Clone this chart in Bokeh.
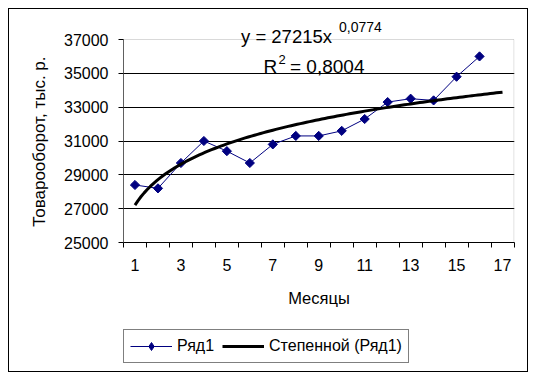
import numpy as np
from bokeh.plotting import figure
from bokeh.layouts import column
from bokeh.models import (FixedTicker, Label, Legend, LegendItem, Range1d,
                          BoxAnnotation)
from bokeh.embed import file_html
from bokeh.resources import INLINE

# ---- data ----
months = list(range(1, 17))
turnover = [28400, 28200, 29700, 31000, 30400, 29700, 30800, 31300,
            31300, 31600, 32300, 33300, 33500, 33400, 34800, 36000]
trend_coef = 27215
trend_exp = 0.0774
trend_r2 = 0.8004
x_tick_values = [1, 3, 5, 7, 9, 11, 13, 15, 17]
y_tick_values = [25000, 27000, 29000, 31000, 33000, 35000, 37000]
series_name = "Ряд1"
trend_name = "Степенной (Ряд1)"
x_title = "Месяцы"
y_title = "Товарооборот, тыс. р."

FONT = "Liberation Sans"
NAVY = "#000080"

# power trendline, as given by the chart's own equation, extended one period
x_tr = np.linspace(1, 17, 121)
y_tr = trend_coef * x_tr ** trend_exp

# ---- geometry (page px; layout at 0,0) ----
W, H = 536, 380
H1 = 325            # height of the chart part; legend strip below it
FL = 123            # frame left
FW = 391            # frame width
FT = 12             # frame top - extended upward to hold the equation
Y37 = 39            # y of the 37000 line
FB = 242            # frame bottom
XMIN, XLAST = 0.5, 17.5
YMIN, YMAX = 25000, 37000
X_PER_PX = (XLAST - XMIN) / (FW - 0.5)
Y_PER_PX = (YMAX - YMIN) / (FB - Y37)
XMAX_R = XMIN + FW * X_PER_PX
YTOP_R = YMAX + (Y37 - FT) * Y_PER_PX


def dx(px):
    return XMIN + (px - FL) * X_PER_PX


def dy(py):
    return YMAX - (py - Y37) * Y_PER_PX


p = figure(frame_width=FW, frame_height=FB - FT, title=None,
           x_range=Range1d(XMIN, XMAX_R), y_range=Range1d(YMIN, YTOP_R),
           output_backend="svg", toolbar_location=None,
           min_border_left=FL, min_border_top=FT,
           min_border_right=W - FL - FW,
           min_border_bottom=H1 - FB)
p.background_fill_color = "white"
p.border_fill_color = "white"
p.border_fill_alpha = 0
p.outline_line_color = None

# plot-area border (gray), top & right
p.add_layout(BoxAnnotation(left=XMIN, right=XLAST, bottom=YMIN, top=YMAX,
                           fill_alpha=0, line_color="#808080", line_width=1,
                           level="underlay"))

# grid
p.xgrid.visible = False
p.ygrid.ticker = FixedTicker(ticks=y_tick_values[1:-1])
p.ygrid.grid_line_color = "black"
p.ygrid.grid_line_width = 1

# x axis
xa = p.xaxis[0]
xa.ticker = FixedTicker(ticks=x_tick_values,
                        minor_ticks=[v + 0.5 for v in range(0, 18)])
xa.bounds = (XMIN, XLAST)
xa.major_tick_out = 0
xa.major_tick_in = 0
xa.minor_tick_out = 5
xa.minor_tick_in = 0
xa.minor_tick_line_color = "black"
xa.axis_line_color = "black"
xa.major_label_standoff = 11
xa.major_label_text_font = FONT
xa.major_label_text_font_size = "16px"
xa.major_label_text_color = "black"
xa.axis_label = x_title
xa.axis_label_text_font = FONT
xa.axis_label_text_font_size = "16.5px"
xa.axis_label_text_font_style = "normal"
xa.axis_label_text_color = "black"
xa.axis_label_standoff = 15

# y axis (label padded so it centres on the 25000-37000 span)
ya = p.yaxis[0]
ya.ticker = FixedTicker(ticks=y_tick_values)
ya.bounds = (YMIN, YMAX)
ya.major_tick_out = 5
ya.major_tick_in = 0
ya.minor_tick_out = 0
ya.minor_tick_in = 0
ya.major_tick_line_color = "black"
ya.axis_line_color = "#606060"
ya.major_label_standoff = 10
ya.major_label_text_font = FONT
ya.major_label_text_font_size = "16px"
ya.major_label_text_color = "black"
ya.axis_label = y_title + "\u00a0" * 6
ya.axis_label_text_font = FONT
ya.axis_label_text_font_size = "17px"
ya.axis_label_text_font_style = "normal"
ya.axis_label_text_color = "black"
ya.axis_label_standoff = 12

# series
p.line(months, turnover, line_color=NAVY, line_width=1)
p.scatter(months, turnover, marker="square", angle=np.pi / 4,
          size=6.5, fill_color=NAVY, line_color=NAVY, line_width=1)
p.line(x_tr, y_tr, line_color="black", line_width=3)

# equation texts
exp_txt = f"{trend_exp}".replace(".", ",")
r2_txt = f"= {trend_r2:.4f}".replace(".", ",")
for txt, px, py, fs in [
    (f"y = {trend_coef}x", 240.5, 36, "18.5px"),
    (exp_txt, 338.5, 26, "14px"),
    ("R", 263, 65.5, "19px"),
    ("2", 278, 58.5, "13px"),
    (r2_txt, 289.5, 65.5, "19px"),
]:
    p.add_layout(Label(x=dx(px), y=dy(py), text=txt, text_font=FONT,
                       text_font_size=fs, text_color="black",
                       text_align="left", text_baseline="alphabetic"))

# ---- legend strip (same series, drawn off-view; only the legend shows) ----
H2 = H - H1
q = figure(width=W, height=H2, title=None, x_axis_type=None,
           y_axis_type=None, x_range=Range1d(-2, -1), y_range=Range1d(-2, -1),
           output_backend="svg", toolbar_location=None, min_border=0)
q.outline_line_color = None
q.background_fill_alpha = 0
q.border_fill_alpha = 0
lq = q.line(months, turnover, line_color=NAVY, line_width=1)
sq = q.scatter(months, turnover, marker="diamond", size=11,
               fill_color=NAVY, line_color=NAVY, line_width=1)
tq = q.line(x_tr, y_tr, line_color="black", line_width=3)

# legend x is relative to the strip's frame, which the column aligns with
# the chart frame above
LEG_X, LEG_TOP, LEG_H = 0, 331, 32
legend = Legend(items=[LegendItem(label=series_name, renderers=[lq, sq]),
                       LegendItem(label=trend_name, renderers=[tq])],
                location=(LEG_X, H2 - (LEG_TOP - H1) - LEG_H),
                orientation="horizontal",
                glyph_width=42, glyph_height=20, label_height=20,
                label_standoff=5, spacing=8, padding=6, margin=0,
                label_text_font=FONT, label_text_font_size="16px",
                label_text_color="black",
                border_line_color="black", border_line_width=1,
                background_fill_color="white", background_fill_alpha=1)
q.add_layout(legend)

layout = column(p, q, spacing=0,
                styles={"outline": "1px solid black",
                        "outline-offset": "-9px"})

open("out.html", "w").write(file_html(layout, INLINE))
